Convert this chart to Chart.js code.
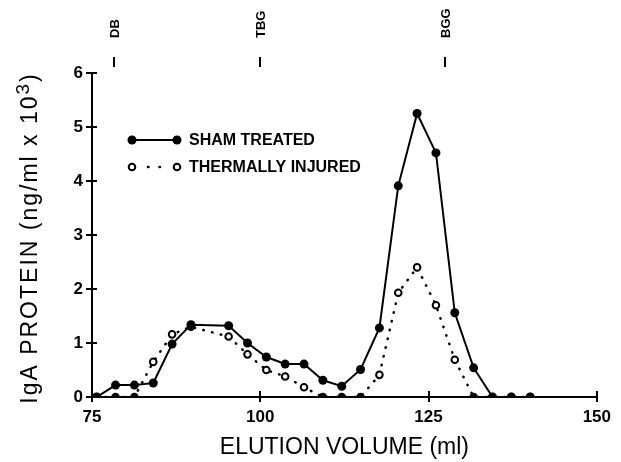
<!DOCTYPE html>
<html>
<head>
<meta charset="utf-8">
<script src="https://cdn.jsdelivr.net/npm/chart.js@4.4.1/dist/chart.umd.min.js"></script>
<style>
  body { margin: 0; background: #fff; }
  #wrap { width: 621px; height: 462px; }
</style>
</head>
<body>
<div id="wrap"><canvas id="elutionChart" width="621" height="462"></canvas></div>
<script>
// elution volume of each fraction (ml)
const elution = [75.7, 78.5, 81.3, 84.1, 86.9, 89.7, 92.5, 95.3, 98.1, 100.9, 103.7, 106.5,
                 109.3, 112.1, 114.9, 117.7, 120.5, 123.3, 126.1, 128.9, 131.7, 134.5, 137.3, 140.1];

// IgA protein, ng/ml x 10^3
const shamTreated = [0, 0.22, 0.22, 0.26, 0.98, 1.34, null, 1.32, 1.0, 0.74, 0.61, 0.61,
                     0.31, 0.2, 0.51, 1.28, 3.91, 5.25, 4.52, 1.56, 0.54, 0, 0, 0];
const thermallyInjured = [0, 0, 0, 0.65, 1.16, 1.3, null, 1.12, 0.79, 0.5, 0.38, 0.18,
                          0, 0, 0, 0.41, 1.93, 2.4, 1.7, 0.69, 0, 0, 0, 0];

const seriesNames = ["SHAM TREATED", "THERMALLY INJURED"];
const xTicks = [75, 100, 125, 150];
const yTicks = [0, 1, 2, 3, 4, 5, 6];

// calibration markers along the top
const markerNames = ["DB", "TBG", "BGG"];
const markerVolumes = [78.2, 100, 127.4];

const xTitle = "ELUTION VOLUME (ml)";
const yTitle = ["IgA PROTEIN (ng/ml x 10", "3", ")"];

function toPoints(ys) {
    return elution.map((x, i) => ({ x: x, y: ys[i] }));
}

/* ===============================
   extra drawing: ticks, legend, titles, markers
================================*/
const decorations = {
    id: "decorations",
    afterDraw(chart) {
        const ctx = chart.ctx;
        const area = chart.chartArea;
        const xs = chart.scales.x;
        const ys = chart.scales.y;
        ctx.save();
        ctx.strokeStyle = "#000";
        ctx.fillStyle = "#000";
        ctx.lineWidth = 2;

        // ticks crossing the axes
        yTicks.forEach(v => {
            const py = Math.round(ys.getPixelForValue(v));
            ctx.beginPath();
            ctx.moveTo(area.left - 6, py);
            ctx.lineTo(area.left + 5, py);
            ctx.stroke();
        });
        xTicks.forEach(v => {
            const px = Math.round(xs.getPixelForValue(v));
            ctx.beginPath();
            ctx.moveTo(px, area.bottom - 6);
            ctx.lineTo(px, area.bottom + 5);
            ctx.stroke();
        });

        // markers on top
        ctx.font = "bold 13px 'Liberation Sans', Arial, sans-serif";
        markerNames.forEach((name, i) => {
            const px = Math.round(xs.getPixelForValue(markerVolumes[i]));
            ctx.beginPath();
            ctx.moveTo(px, 57);
            ctx.lineTo(px, 67);
            ctx.stroke();
            ctx.save();
            ctx.translate(px + 1, 38);
            ctx.rotate(-Math.PI / 2);
            ctx.textAlign = "left";
            ctx.textBaseline = "middle";
            ctx.fillText(name, 0, 0);
            ctx.restore();
        });

        // legend
        const rows = [140, 167];
        ctx.font = "bold 16px 'Liberation Sans', Arial, sans-serif";
        ctx.textAlign = "left";
        ctx.textBaseline = "middle";
        // sham row
        ctx.beginPath();
        ctx.moveTo(132, rows[0]);
        ctx.lineTo(177, rows[0]);
        ctx.stroke();
        [132, 177].forEach(px => {
            ctx.beginPath();
            ctx.arc(px, rows[0], 4.5, 0, Math.PI * 2);
            ctx.fill();
        });
        ctx.fillText(seriesNames[0], 189, rows[0] + 1);
        // thermal row
        ctx.save();
        ctx.lineWidth = 2.5;
        ctx.lineCap = "round";
        ctx.setLineDash([0.5, 11]);
        ctx.beginPath();
        ctx.moveTo(148, rows[1]);
        ctx.lineTo(165, rows[1]);
        ctx.stroke();
        ctx.restore();
        [132, 177].forEach(px => {
            ctx.beginPath();
            ctx.arc(px, rows[1], 3.3, 0, Math.PI * 2);
            ctx.fillStyle = "#fff";
            ctx.fill();
            ctx.stroke();
        });
        ctx.fillStyle = "#000";
        ctx.fillText(seriesNames[1], 189, rows[1] + 1);

        // x title
        ctx.font = "23px 'Liberation Sans', Arial, sans-serif";
        ctx.textAlign = "center";
        ctx.textBaseline = "middle";
        ctx.fillText(xTitle, (area.left + area.right) / 2, 448);

        // y title with raised 3
        ctx.save();
        ctx.translate(31, 238);
        ctx.rotate(-Math.PI / 2);
        ctx.letterSpacing = "2px";
        ctx.textAlign = "left";
        ctx.textBaseline = "middle";
        const big = "23px 'Liberation Sans', Arial, sans-serif";
        const small = "19px 'Liberation Sans', Arial, sans-serif";
        ctx.font = big;
        const w1 = ctx.measureText(yTitle[0]).width;
        const w3 = ctx.measureText(yTitle[2]).width;
        ctx.font = small;
        const w2 = ctx.measureText(yTitle[1]).width;
        let cx = -(w1 + w2 + w3) / 2;
        ctx.font = big;
        ctx.fillText(yTitle[0], cx, 0);
        cx += w1;
        ctx.font = small;
        ctx.fillText(yTitle[1], cx, -7);
        cx += w2;
        ctx.font = big;
        ctx.fillText(yTitle[2], cx, 0);
        ctx.restore();

        ctx.restore();
    }
};

const tickFont = { family: "'Liberation Sans', Arial, sans-serif", size: 17, weight: "bold" };

new Chart(document.getElementById("elutionChart"), {
    type: "line",
    data: {
        datasets: [
            {
                label: seriesNames[0],
                data: toPoints(shamTreated),
                borderColor: "#000",
                borderWidth: 2,
                pointRadius: 4.5,
                pointBackgroundColor: "#000",
                pointBorderWidth: 0,
                spanGaps: true,
                tension: 0
            },
            {
                label: seriesNames[1],
                data: toPoints(thermallyInjured),
                borderColor: "#000",
                borderWidth: 2.5,
                borderDash: [0.5, 8.5],
                borderCapStyle: "round",
                pointRadius: 3.3,
                pointBorderWidth: 2,
                // on the baseline the small circles print as solid dots
                pointBackgroundColor: c => (c.raw && c.raw.y === 0 ? "#000" : "#fff"),
                pointBorderColor: "#000",
                spanGaps: true,
                tension: 0
            }
        ]
    },
    options: {
        responsive: false,
        animation: false,
        layout: { padding: { top: 73, right: 19, left: 0, bottom: 0 } },
        plugins: {
            legend: { display: false },
            tooltip: { enabled: false }
        },
        scales: {
            x: {
                type: "linear",
                min: 75,
                max: 150,
                afterBuildTicks: s => { s.ticks = xTicks.map(v => ({ value: v })); },
                afterFit: s => { s.height = 65; },
                grid: { display: false, drawTicks: false },
                border: { color: "#000", width: 2 },
                ticks: { color: "#000", font: tickFont, padding: 10, maxRotation: 0 }
            },
            y: {
                min: 0,
                max: 6,
                afterBuildTicks: s => { s.ticks = yTicks.map(v => ({ value: v })); },
                afterFit: s => { s.width = 92; },
                grid: { display: false, drawTicks: false },
                border: { color: "#000", width: 2 },
                ticks: { color: "#000", font: tickFont, padding: 9 }
            }
        }
    },
    plugins: [decorations]
});
</script>
</body>
</html>
